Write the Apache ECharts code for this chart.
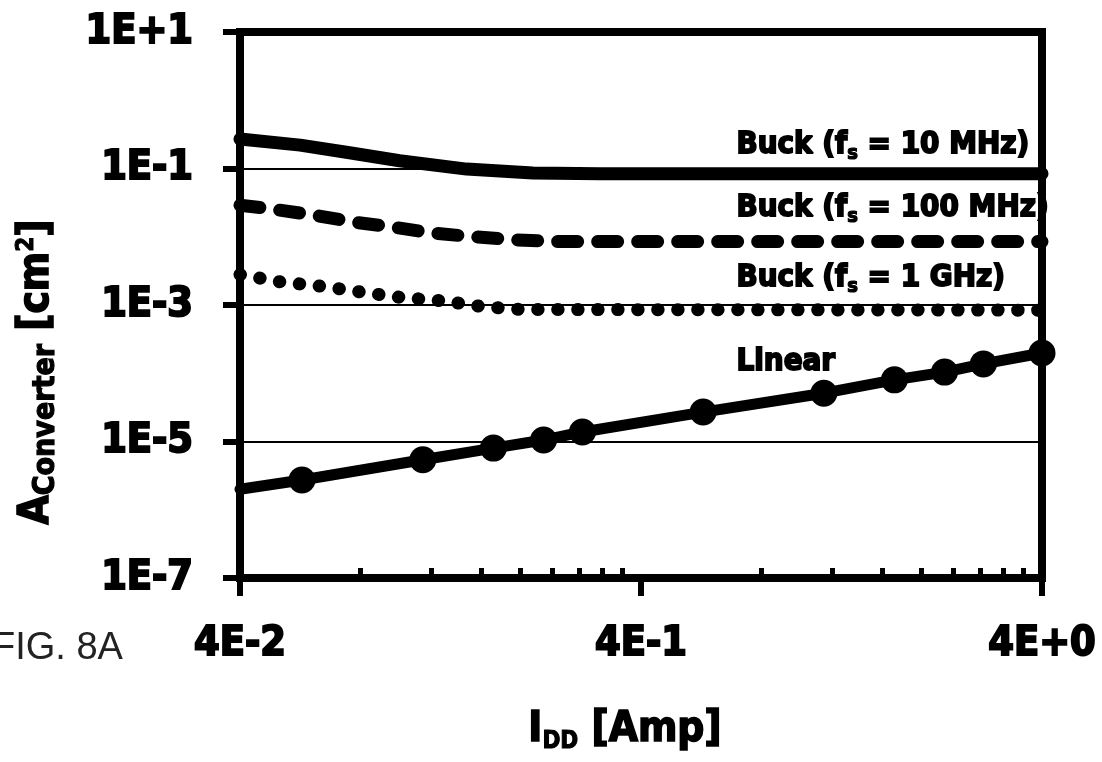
<!DOCTYPE html>
<html>
<head>
<meta charset="utf-8">
<script src="https://cdn.jsdelivr.net/npm/echarts@6/dist/echarts.min.js"></script>
<style>
  html, body { margin: 0; padding: 0; background: #fff; }
  #chart { width: 1102px; height: 762px; }
</style>
</head>
<body>
<div id="chart"></div>
<script>
// Converter area versus supply current, log-log.
// I_DD in amperes, A_converter in cm^2.

const buck10I   = [0.04, 0.0565, 0.075, 0.1, 0.147, 0.215, 0.316, 4];
const buck10A   = [0.27, 0.22, 0.17, 0.13, 0.098, 0.086, 0.084, 0.084];

const buck100I  = [0.04, 0.048, 0.061, 0.077, 0.096, 0.121, 0.156, 0.196, 0.25, 4];
const buck100A  = [0.029, 0.0255, 0.0208, 0.0164, 0.0139, 0.0113, 0.0099, 0.009, 0.0085, 0.0085];

const buck1GI   = [0.04, 0.05, 0.065, 0.08, 0.1, 0.13, 0.16, 0.2, 4];
const buck1GA   = [0.0028, 0.0022, 0.00186, 0.00155, 0.0013, 0.00114, 0.00095, 0.00086, 0.00084];

const linearI   = [0.04, 0.0571, 0.1143, 0.1714, 0.2286, 0.2857, 0.5714, 1.143, 1.714, 2.286, 2.857, 4.0];
const linearA   = [2.0e-6, 2.73e-6, 5.4e-6, 8.0e-6, 1.05e-5, 1.38e-5, 2.7e-5, 5.1e-5, 8.0e-5, 1.04e-4, 1.37e-4, 1.98e-4];

const xMajorTicks = [0.04, 0.4, 4];
const xMinorTicks = [0.08, 0.12, 0.16, 0.2, 0.24, 0.28, 0.32, 0.36, 0.8, 1.2, 1.6, 2, 2.4, 2.8, 3.2, 3.6];
const yTicks      = [1e-7, 1e-5, 1e-3, 1e-1, 10];

// Series captions and where they sit (data coordinates of their left-middle point)
const captionAt = {
  buck10:  [0.69, 0.22],
  buck100: [0.69, 0.0264],
  buck1G:  [0.69, 0.0025],
  linear:  [0.69, 1.46e-4]
};

const FONT = "'DejaVu Sans Condensed', 'Liberation Sans', sans-serif";
const INK = '#000';

function pairs(xs, ys) { return xs.map((x, i) => [x, ys[i]]); }

function sci(v) {
  const e = Math.floor(Math.log10(v) + 1e-9);
  const m = Math.round(v / Math.pow(10, e));
  return m + 'E' + (e >= 0 ? '+' : '-') + Math.abs(e);
}

const capRich = {
  t: { fontFamily: FONT, fontWeight: 'bold', fontSize: 31, color: INK, textBorderColor: INK, textBorderWidth: 1.8 },
  s: { fontFamily: FONT, fontWeight: 'bold', fontSize: 20, color: INK, textBorderColor: INK, textBorderWidth: 1.2, padding: [18, 0, 0, 0] }
};

function caption(coord, text) {
  return {
    silent: true,
    symbol: 'circle',
    symbolSize: 1,
    itemStyle: { color: 'rgba(0,0,0,0)' },
    label: {
      show: true,
      position: 'right',
      distance: 0,
      formatter: text,
      rich: capRich
    },
    data: [{ coord: coord }]
  };
}

const linearData = pairs(linearI, linearA).map((p, i) =>
  i === 0 ? { value: p, symbol: 'none' } : p
);

const chart = echarts.init(document.getElementById('chart'), null, { renderer: 'canvas' });

const tickLabelStyle = {
  fontFamily: FONT,
  fontWeight: 'bold',
  fontSize: 41,
  color: INK,
  textBorderColor: INK,
  textBorderWidth: 2,
  formatter: sci
};

chart.setOption({
  animation: false,
  backgroundColor: '#fff',
  grid: {
    left: 240, right: 60, top: 32, bottom: 184,
    show: true,
    borderColor: INK,
    borderWidth: 8,
    backgroundColor: 'transparent',
    outerBoundsMode: 'none'
  },
  xAxis: [
    {
      type: 'log', logBase: 10, min: 0.04, max: 4,
      axisLine: { lineStyle: { color: INK, width: 8 } },
      axisTick: { show: true, inside: false, length: 18, lineStyle: { color: INK, width: 6 }, customValues: xMajorTicks },
      axisLabel: Object.assign({ margin: 46, customValues: xMajorTicks }, tickLabelStyle),
      splitLine: { show: false },
      minorTick: { show: false }
    },
    {
      type: 'log', logBase: 10, min: 0.04, max: 4, position: 'bottom',
      axisLine: { show: false },
      axisTick: { show: true, inside: true, length: 10, lineStyle: { color: INK, width: 5 }, customValues: xMinorTicks },
      axisLabel: { show: false },
      splitLine: { show: false }
    }
  ],
  yAxis: {
    type: 'log', logBase: 10, min: 1e-7, max: 10,
    axisLine: { lineStyle: { color: INK, width: 8 } },
    axisTick: { show: true, inside: false, length: 17, lineStyle: { color: INK, width: 6 }, customValues: yTicks },
    axisLabel: Object.assign({ margin: 47, customValues: yTicks }, tickLabelStyle),
    splitLine: { show: true, lineStyle: { color: INK, width: 2 } },
    minorTick: { show: false }
  },
  series: [
    {
      name: 'Buck (fs = 10 MHz)', type: 'line', xAxisIndex: 0,
      data: pairs(buck10I, buck10A), symbol: 'none',
      lineStyle: { color: INK, width: 13, cap: 'round', join: 'round' },
      markPoint: caption(captionAt.buck10, '{t|Buck (f}{s|s}{t| = 10 MHz)}')
    },
    {
      name: 'Buck (fs = 100 MHz)', type: 'line', xAxisIndex: 0,
      data: pairs(buck100I, buck100A), symbol: 'none',
      lineStyle: { color: INK, width: 13, type: [20, 20], cap: 'round', join: 'round' },
      markPoint: caption(captionAt.buck100, '{t|Buck (f}{s|s}{t| = 100 MHz)}')
    },
    {
      name: 'Buck (fs = 1 GHz)', type: 'line', xAxisIndex: 0,
      data: pairs(buck1GI, buck1GA), symbol: 'none',
      lineStyle: { color: INK, width: 13, type: [0.5, 19.5], cap: 'round', join: 'round' },
      markPoint: caption(captionAt.buck1G, '{t|Buck (f}{s|s}{t| = 1 GHz)}')
    },
    {
      name: 'Linear', type: 'line', xAxisIndex: 0,
      data: linearData, symbol: 'circle', symbolSize: 27,
      itemStyle: { color: INK },
      lineStyle: { color: INK, width: 11, cap: 'round', join: 'round' },
      markPoint: caption(captionAt.linear, '{t|Linear}')
    }
  ],
  graphic: [
    {
      type: 'text', x: 37, y: 372, rotation: Math.PI / 2,
      style: {
        text: '{a|A}{b|Converter}{a| [cm}{c|2}{a|]}',
        align: 'center', verticalAlign: 'middle',
        rich: {
          a: { fontFamily: FONT, fontWeight: 'bold', fontSize: 42, fill: INK, stroke: INK, lineWidth: 1.6 },
          b: { fontFamily: FONT, fontWeight: 'bold', fontSize: 30, fill: INK, stroke: INK, lineWidth: 1.2, padding: [18, 0, 0, 0] },
          c: { fontFamily: FONT, fontWeight: 'bold', fontSize: 24, fill: INK, stroke: INK, lineWidth: 1, padding: [0, 0, 20, 0] }
        }
      }
    },
    {
      type: 'text', x: 625, y: 730,
      style: {
        text: '{a|I}{b|DD}{a| [Amp]}',
        align: 'center', verticalAlign: 'middle',
        rich: {
          a: { fontFamily: FONT, fontWeight: 'bold', fontSize: 42, fill: INK, stroke: INK, lineWidth: 1.6 },
          b: { fontFamily: FONT, fontWeight: 'bold', fontSize: 24, fill: INK, stroke: INK, lineWidth: 1, padding: [24, 0, 0, 0] }
        }
      }
    },
    {
      type: 'text', left: -8, top: 630,
      style: { text: 'FIG. 8A', fontFamily: "'Liberation Sans', sans-serif", fontSize: 38, fill: '#222' }
    }
  ]
});
</script>
</body>
</html>
